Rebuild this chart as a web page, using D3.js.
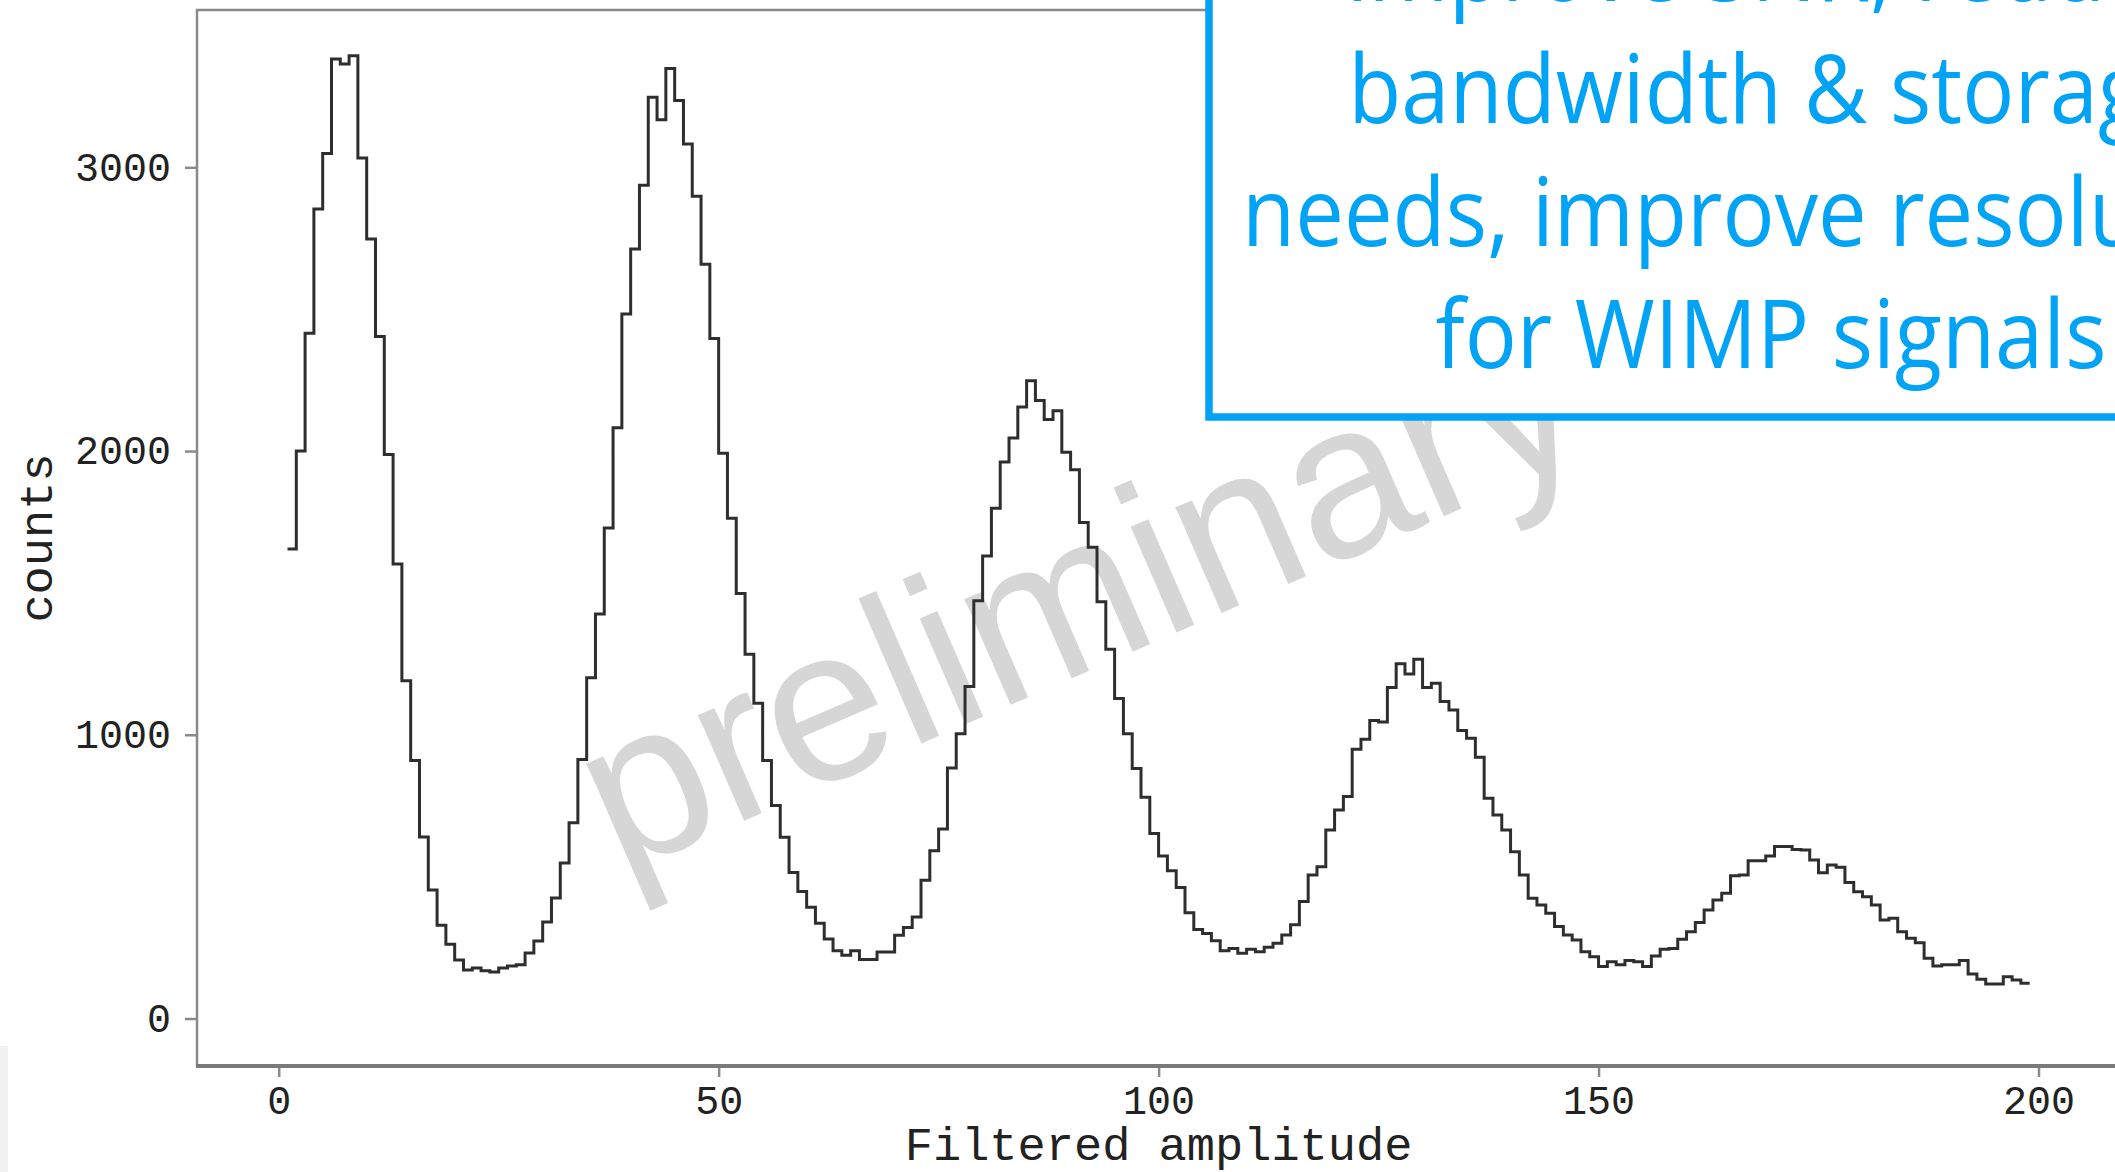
<!DOCTYPE html>
<html>
<head>
<meta charset="utf-8">
<script src="https://cdn.jsdelivr.net/npm/d3@7"></script>
<style>
  body { margin: 0; background: #fff; }
  svg { display: block; }
</style>
</head>
<body>
<div id="chart"></div>
<script>
// histogram: one count per unit-wide bin, first bin starts at amplitude 1
const binStart = 1;
const counts = [
  1655, 2000, 2415, 2853, 3049, 3382, 3364, 3393, 3033, 2747,
  2404, 1988, 1602, 1190, 909, 640, 453, 329, 262, 206,
  171, 178, 168, 164, 178, 185, 189, 231, 273, 340,
  425, 548, 690, 913, 1201, 1426, 1729, 2082, 2483, 2712,
  2937, 3247, 3168, 3348, 3235, 3082, 2898, 2658, 2397, 1992,
  1763, 1498, 1284, 1111, 909, 751, 639, 515, 448, 392,
  336, 280, 239, 223, 239, 208, 208, 234, 234, 293,
  321, 358, 487, 591, 668, 883, 1004, 1170, 1472, 1630,
  1798, 1961, 2046, 2155, 2248, 2178, 2111, 2142, 1996, 1934,
  1748, 1661, 1469, 1301, 1128, 1004, 881, 780, 652, 573,
  521, 462, 373, 314, 300, 274, 239, 247, 230, 244,
  235, 251, 265, 294, 330, 412, 506, 535, 664, 735,
  782, 949, 984, 1050, 1045, 1167, 1250, 1214, 1266, 1167,
  1182, 1117, 1087, 1015, 988, 921, 776, 717, 664, 588,
  506, 424, 400, 371, 324, 294, 277, 235, 218, 183,
  200, 189, 204, 200, 183, 220, 244, 247, 279, 306,
  338, 382, 418, 441, 503, 506, 556, 556, 573, 606,
  606, 596, 594, 559, 514, 541, 533, 479, 447, 429,
  400, 347, 353, 306, 283, 267, 212, 185, 189, 189,
  204, 157, 138, 122, 122, 147, 136, 124
];
const xTicks = [0, 50, 100, 150, 200];
const yTicks = [0, 1000, 2000, 3000];
const xTitle = "Filtered amplitude";
const yTitle = "counts";
const watermark = "preliminary";
const noteLines = [
  "improve SNR, reduce",
  "bandwidth & storage",
  "needs, improve resolution",
  "for WIMP signals"
];

const width = 2115;
const height = 1172;
const frame = {l: 197, t: 10, b: 1066};
const mono = "'Liberation Mono', 'Courier New', monospace";

const svg = d3.select("#chart")
    .append("svg")
    .attr("width", width)
    .attr("height", height)
    .attr("viewBox", [0, 0, width, height]);

// faint strip at bottom-left edge of the screenshot
svg.append("rect")
    .attr("x", 0).attr("y", 1046)
    .attr("width", 8).attr("height", height - 1046)
    .attr("fill", "#f1f1f1");

const xScale = d3.scaleLinear()
    .domain([0, 200])
    .range([278.7, 2038.5]);

const yScale = d3.scaleLinear()
    .domain([0, 3000])
    .range([1018.5, 167.3]);

// watermark sits under everything else
svg.append("text")
    .attr("transform", "translate(619,875) rotate(-23.5)")
    .attr("font-family", "'Liberation Sans', Arial, sans-serif")
    .attr("font-size", 218)
    .attr("fill", "#d6d6d6")
    .text(watermark);

// frame: left and top edges
svg.append("path")
    .attr("d", `M${frame.l},${frame.b} V${frame.t} H${width + 10}`)
    .attr("fill", "none")
    .attr("stroke", "#8a8a8a")
    .attr("stroke-width", 2.5);

//Y Axis
const yAxis = d3.axisLeft(yScale)
    .tickValues(yTicks)
    .tickSize(12)
    .tickPadding(14)
    .tickFormat(d3.format("d"));
const yG = svg.append("g")
    .attr("class", "yAxis")
    .attr("transform", `translate(${frame.l}, 0)`)
    .call(yAxis);
yG.select(".domain").remove();
yG.selectAll(".tick line").attr("stroke", "#8a8a8a").attr("stroke-width", 2.5);
yG.selectAll(".tick text")
    .attr("font-family", mono)
    .attr("font-size", 40)
    .attr("fill", "#222");

//X Axis
const xAxis = d3.axisBottom(xScale)
    .tickValues(xTicks)
    .tickSize(11)
    .tickPadding(9)
    .tickFormat(d3.format("d"));
const xG = svg.append("g")
    .attr("class", "xAxis")
    .attr("transform", `translate(0, ${frame.b})`)
    .call(xAxis);
xG.select(".domain").remove();
xG.selectAll(".tick line").attr("stroke", "#8a8a8a").attr("stroke-width", 2.5);
xG.selectAll(".tick text")
    .attr("font-family", mono)
    .attr("font-size", 40)
    .attr("fill", "#222");
svg.append("line")
    .attr("x1", frame.l - 1).attr("x2", width + 10)
    .attr("y1", frame.b).attr("y2", frame.b)
    .attr("stroke", "#7a7a7a")
    .attr("stroke-width", 4);

//Labels
svg.append("text")
    .attr("x", xScale(100))
    .attr("y", 1160)
    .attr("text-anchor", "middle")
    .attr("font-family", mono)
    .attr("font-size", 47)
    .attr("fill", "#222")
    .text(xTitle);
svg.append("text")
    .attr("transform", "translate(52, 538) rotate(-90)")
    .attr("text-anchor", "middle")
    .attr("font-family", mono)
    .attr("font-size", 47)
    .attr("fill", "#222")
    .text(yTitle);

// step outline of the histogram
const pts = counts.map((c, i) => [binStart + i, c]);
pts.push([binStart + counts.length, counts[counts.length - 1]]);
const line = d3.line()
    .x(d => xScale(d[0]))
    .y(d => yScale(d[1]))
    .curve(d3.curveStepAfter);
svg.append("path")
    .datum(pts)
    .attr("d", line)
    .attr("fill", "none")
    .attr("stroke", "#2e2e2e")
    .attr("stroke-width", 3);

// note box, running off the top and right of the picture
const blue = "#00a3f5";
svg.append("rect")
    .attr("x", 1209).attr("y", -60)
    .attr("width", 1130).attr("height", 477)
    .attr("fill", "#fff")
    .attr("stroke", blue)
    .attr("stroke-width", 7.5);
const note = svg.append("g")
    .attr("font-family", "'Open Sans', 'Noto Sans', sans-serif")
    .attr("font-size", 95)
    .attr("fill", blue)
    .attr("text-anchor", "middle");
const noteTexts = note.selectAll("text")
    .data(noteLines)
    .enter()
    .append("text")
    .attr("x", 0)
    .attr("y", (d, i) => 1 + i * 122.5)
    .text(d => d);
// squeeze glyphs to the condensed face of the original
const refLen = noteTexts.filter((d, i) => i === 3).node().getComputedTextLength();
const sx = 671 / refLen;
note.attr("transform", `translate(1771,0) scale(${sx},1)`);
</script>
</body>
</html>
